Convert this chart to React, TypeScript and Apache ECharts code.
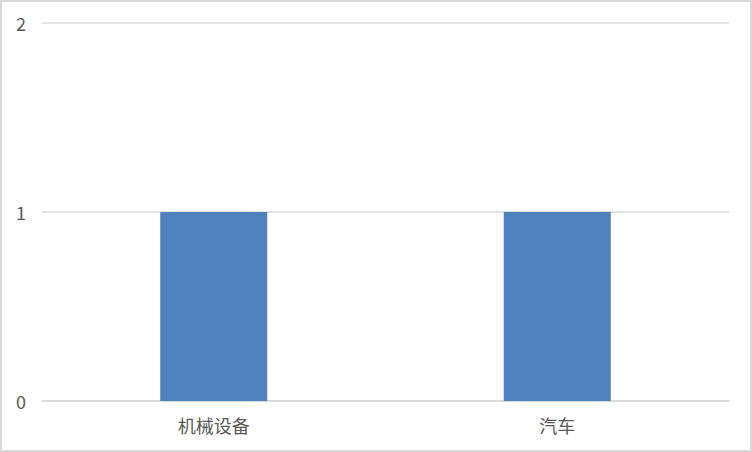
import React, { useEffect, useRef } from "react";
import * as echarts from "echarts";

const categories = ["机械设备", "汽车"];
const counts = [1, 1];

const App: React.FC = () => {
  const chartRef = useRef<HTMLDivElement>(null);

  useEffect(() => {
    document.body.style.margin = "0";
    if (!chartRef.current) return;
    const chart = echarts.init(chartRef.current, undefined, { renderer: "svg" });

    chart.setOption({
      animation: false,
      // the div has a 2px border, so the grid is measured from inside it
      grid: { left: 40, right: 21, top: 21, bottom: 49 },
      xAxis: {
        type: "category",
        data: categories,
        axisTick: { show: false },
        axisLine: { lineStyle: { color: "#d9d9d9", width: 1.5 } },
        axisLabel: {
          color: "#595959",
          fontSize: 18,
          fontFamily: "Noto Sans CJK SC",
          margin: 15,
        },
      },
      yAxis: {
        type: "value",
        min: 0,
        max: 2,
        interval: 1,
        axisLine: { show: false },
        axisTick: { show: false },
        splitLine: { lineStyle: { color: "#d9d9d9", width: 1.5 } },
        axisLabel: {
          color: "#595959",
          fontSize: 18,
          fontFamily: "Noto Sans CJK SC",
          margin: 16,
        },
      },
      series: [
        {
          type: "bar",
          data: counts,
          barWidth: 107,
          itemStyle: { color: "#4f81bd" },
        },
      ],
    });

    return () => chart.dispose();
  }, []);

  return (
    <div
      ref={chartRef}
      style={{
        width: 752,
        height: 452,
        boxSizing: "border-box",
        border: "2px solid #d9d9d9",
        background: "#fff",
      }}
    />
  );
};

export default App;
